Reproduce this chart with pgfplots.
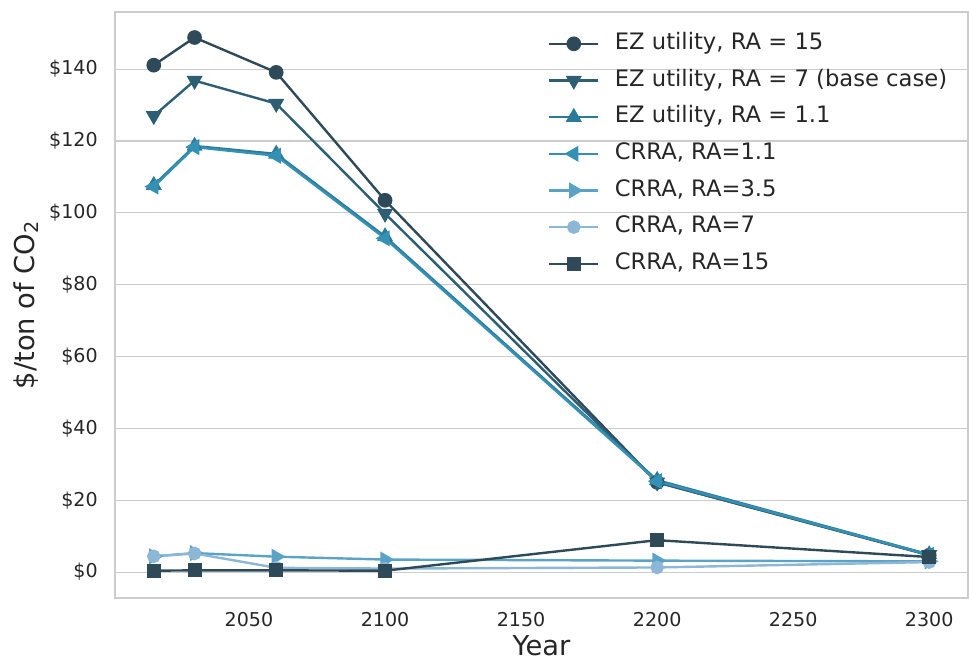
\documentclass[border=0pt]{standalone}
\usepackage{pgfplots}
\pgfplotsset{compat=1.18}
\usepackage{fontspec}
\setmainfont{DejaVu Sans}
\usetikzlibrary{calc}

\definecolor{cA}{HTML}{2E4A58}
\definecolor{cB}{HTML}{2D5E73}
\definecolor{cC}{HTML}{2B7A99}
\definecolor{cD}{HTML}{3590B5}
\definecolor{cE}{HTML}{5BA3C6}
\definecolor{cF}{HTML}{8DB7D6}
\definecolor{txt}{HTML}{262626}
\definecolor{gridc}{HTML}{CCCCCC}

\begin{document}
\begin{tikzpicture}
\begin{axis}[
    scale only axis,
    width=639.75pt, height=439.5pt,
    xmin=2000.75, xmax=2314.25,
    ymin=-7.2, ymax=155.9,
    xtick={2050,2100,2150,2200,2250,2300},
    xticklabels={2050,2100,2150,2200,2250,2300},
    ytick={0,20,40,60,80,100,120,140},
    yticklabels={\$0,\$20,\$40,\$60,\$80,\$100,\$120,\$140},
    major tick length=0pt,
    ymajorgrids,
    grid style={gridc, line width=0.9pt},
    axis line style={gridc, line width=1pt},
    ticklabel style={font=\fontsize{14.3}{17}\selectfont, text=txt},
    xticklabel style={anchor=base, inner sep=0pt, yshift=-21.5pt},
    yticklabel style={anchor=east, inner sep=0pt, xshift=-12.75pt},
    xlabel={Year},
    ylabel={\$/ton of CO\textsubscript{2}},
    label style={font=\fontsize{20.5}{24}\selectfont, text=txt},
    xlabel style={at={(axis description cs:0.5,0)}, anchor=center, inner sep=0pt, yshift=-35.5pt},
    ylabel style={at={(axis description cs:-0.1043,0.5)}, anchor=center},
    every axis plot/.append style={line width=1.8pt},
    legend cell align=left,
    legend image code/.code={
        \draw[line width=1.8pt, mark repeat=2, mark phase=2, #1] plot coordinates {(0pt,0pt) (18.4pt,0pt) (36.8pt,0pt)};
    },
    legend style={
        at={(axis description cs:0.5077,0.977)}, anchor=north west,
        draw=none, fill=none, inner sep=0pt, outer sep=0pt,
        font=\fontsize{17}{20}\selectfont, text=txt,
        column sep=0pt,
        nodes={text height=12.5pt, text depth=4pt, inner ysep=5.5pt, inner xsep=11.5pt},
    },
]
\addplot[cA, mark=*, mark size=4.6pt] coordinates {
    (2015,141.1) (2030,148.8) (2060,139.1) (2100,103.5) (2200,25.0) (2300,4.7)};
\addlegendentry{EZ utility, RA = 15}
\addplot[cB, mark=triangle*, mark size=5.2pt, mark options={rotate=180}] coordinates {
    (2015,127.0) (2030,136.8) (2060,130.4) (2100,99.8) (2200,25.0) (2300,4.8)};
\addlegendentry{EZ utility, RA = 7 (base case)}
\addplot[cC, mark=triangle*, mark size=5.2pt] coordinates {
    (2015,107.7) (2030,118.6) (2060,116.4) (2100,93.4) (2200,25.6) (2300,4.9)};
\addlegendentry{EZ utility, RA = 1.1}
\addplot[cD, mark=triangle*, mark size=5.2pt, mark options={rotate=90}] coordinates {
    (2015,107.3) (2030,118.3) (2060,115.9) (2100,92.9) (2200,25.3) (2300,4.8)};
\addlegendentry{CRRA, RA=1.1}
\addplot[cE, mark=triangle*, mark size=5.2pt, mark options={rotate=-90}] coordinates {
    (2015,4.4) (2030,5.3) (2060,4.3) (2100,3.5) (2200,3.2) (2300,3.0)};
\addlegendentry{CRRA, RA=3.5}
\addplot[cF, mark=*, mark size=4.2pt] coordinates {
    (2015,4.4) (2030,5.2) (2060,1.2) (2100,1.0) (2200,1.3) (2300,2.8)};
\addlegendentry{CRRA, RA=7}
\addplot[cA, mark=square*, mark size=4.4pt] coordinates {
    (2015,0.4) (2030,0.5) (2060,0.5) (2100,0.4) (2200,8.9) (2300,4.2)};
\addlegendentry{CRRA, RA=15}
\end{axis}
\pgfresetboundingbox
\path[use as bounding box] ([xshift=-86.25pt,yshift=-47.25pt]current axis.south west)
    rectangle ([xshift=0.75pt,yshift=9pt]current axis.north east);
\end{tikzpicture}
\end{document}
